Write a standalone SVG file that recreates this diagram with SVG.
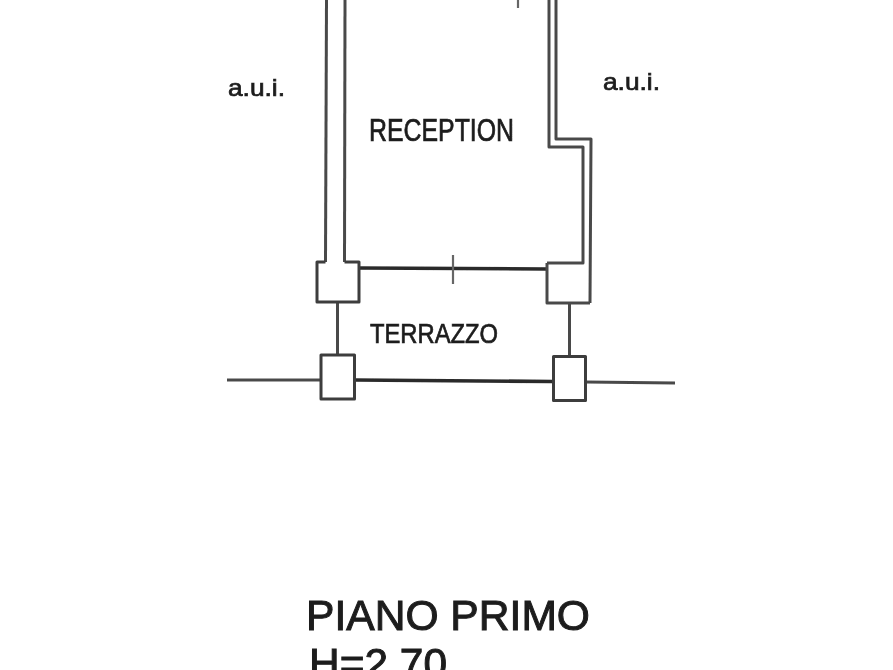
<svg xmlns="http://www.w3.org/2000/svg" width="893" height="670" viewBox="0 0 893 670">
<defs>
<style>
.w{fill:none;stroke:#4a4a4a;stroke-width:3;stroke-linejoin:round}
.h{fill:none;stroke:#2a2a2a;stroke-width:3.600}
.t{fill:none;stroke:#666;stroke-width:2.200}
.p{fill:#fff;stroke:#3c3c3c;stroke-width:3;stroke-linejoin:round}
text{font-family:"Liberation Sans",Arial,sans-serif;fill:#1c1c1c;stroke:#1c1c1c;stroke-width:.7}
.big{stroke-width:1}
</style>
<filter id="soft" x="-5%" y="-5%" width="110%" height="110%"><feGaussianBlur stdDeviation="0.7"/></filter>
</defs>
<rect width="893" height="670" fill="#fff"/>
<g filter="url(#soft)">
<g id="connectors">
<path class="w" d="M326.500 0L325.500 262"/>
<path class="w" d="M345 0L344.500 262"/>
<path class="w" d="M549 0L549 147L583 147L583 263L547 263"/>
<path class="w" d="M556 0L556 139L591 139L590 303"/>
<path class="h" d="M359 268L547 269"/>
<path class="t" d="M453 255L453 284"/>
<path class="t" d="M518 0L518 8"/>
<path class="w" d="M337.500 302L337.500 355"/>
<path class="w" d="M569.500 303L569.500 356"/>
<path class="w" d="M227 380L320 380"/>
<path class="h" d="M355 380L553 381.500"/>
<path class="w" d="M586 382L675 383"/>
</g>
<g id="pier-upper-left"><path class="p" d="M325.500 262L317 262L317 302L359 302L359 262L344.500 262"/></g>
<g id="pier-upper-right"><path class="w" d="M547 263L547 303L590 303"/></g>
<g id="pier-lower-left"><rect class="p" x="321" y="355" width="33.500" height="44"/></g>
<g id="pier-lower-right"><rect class="p" x="553.500" y="356.500" width="32" height="44"/></g>
</g>
<g id="labels" filter="url(#soft)">
<text x="228" y="96" font-size="24" textLength="57" lengthAdjust="spacingAndGlyphs">a.u.i.</text>
<text x="603" y="90" font-size="24" textLength="57" lengthAdjust="spacingAndGlyphs">a.u.i.</text>
<text x="369" y="141" font-size="31" textLength="145" lengthAdjust="spacingAndGlyphs">RECEPTION</text>
<text x="370" y="343" font-size="28" textLength="128" lengthAdjust="spacingAndGlyphs">TERRAZZO</text>
<text class="big" x="306" y="630" font-size="42" textLength="284" lengthAdjust="spacingAndGlyphs">PIANO PRIMO</text>
<text class="big" x="309" y="678" font-size="42" textLength="138" lengthAdjust="spacingAndGlyphs">H=2.70</text>
</g>
</svg>
